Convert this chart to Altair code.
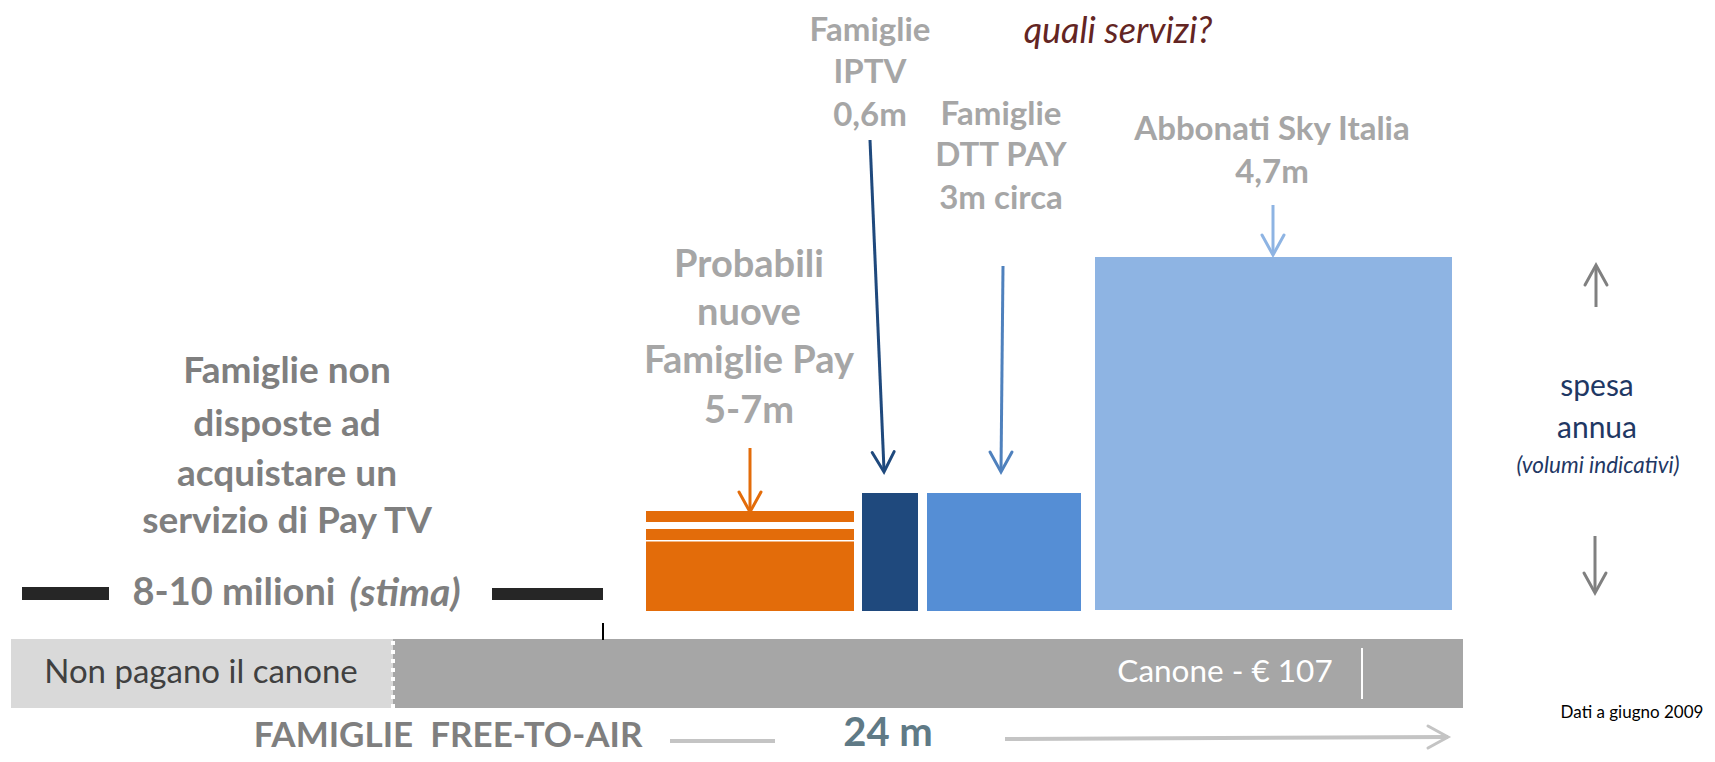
import altair as alt
import pandas as pd

# ---------------- layout frame (page pixels of the 1715x762 slide) ----------------
W, H = 1699, 746
XS = alt.Scale(domain=[8, 8 + W], nice=False, zero=False)
YS = alt.Scale(domain=[8, 8 + H], nice=False, zero=False, reverse=True)
FONT = "Lato"

# ---------------- blocks (households / annual spend volumes) ----------------
block_name = ["Non pagano il canone", "Canone", "Nuove Pay (7m)", "Nuove Pay (6m)", "Nuove Pay (5m)",
              "IPTV", "DTT PAY", "Sky Italia", "barra stima sx", "barra stima dx"]
block_x0 = [11, 393, 646, 646, 646, 862, 927, 1095, 22, 492]
block_x1 = [393, 1463, 854, 854, 854, 918, 1081, 1452, 109, 603]
block_y0 = [639, 639, 511, 529, 541.5, 493, 493, 257, 587, 588]
block_y1 = [708, 708, 522, 540, 611, 611, 611, 610, 600, 600]
block_color = ["#d9d9d9", "#a6a6a6", "#e36c0a", "#e36c0a", "#e36c0a",
               "#1f497d", "#558ed5", "#8eb4e3", "#262626", "#262626"]

# ---------------- connector lines / arrow shafts ----------------
line_x0 = [750, 870, 1003, 1273, 1596, 1595, 670, 1005, 603, 1362]
line_y0 = [448, 140, 266, 205, 307, 536, 741, 739, 623, 648]
line_x1 = [750, 884, 1001, 1273, 1596, 1595, 775, 1448, 603, 1362]
line_y1 = [510, 470, 470, 253, 267, 591, 741, 737, 640, 699]
line_color = ["#e36c0a", "#1f497d", "#4f81bd", "#8eb4e3", "#808080", "#808080",
              "#c4c4c4", "#c4c4c4", "#000000", "#ffffff"]
line_width = [3, 3, 3, 3, 3, 3, 4, 4, 2, 2]

# ---------------- arrow heads (tip position, direction) ----------------
head_x = [750, 884, 1001, 1273, 1596, 1595, 1448]
head_y = [512, 472, 472, 255, 265, 593, 737]
head_angle = [0, 357.6, 0, 0, 180, 0, 270]
head_color = ["#e36c0a", "#1f497d", "#4f81bd", "#8eb4e3", "#808080", "#808080", "#c4c4c4"]

# ---------------- dotted separator ----------------
dot_x = [393]
dot_y0 = [641]
dot_y1 = [708]

# ---------------- labels ----------------
lab_text = ["Famiglie non", "disposte ad", "acquistare un", "servizio di Pay TV",
            "8-10 milioni",
            "Probabili", "nuove", "Famiglie Pay", "5-7m",
            "Famiglie", "IPTV", "0,6m",
            "Famiglie", "DTT PAY", "3m circa",
            "Abbonati Sky Italia", "4,7m"]
lab_x = [287, 287, 287, 287, 234, 749, 749, 749, 749, 870, 870, 870, 1001, 1001, 1001, 1272, 1272]
lab_y = [372, 425, 475, 522, 594, 266, 314, 362, 412, 31, 73, 116, 115, 156, 199, 130, 173]
lab_size = [37, 37, 37, 37, 38, 38, 38, 38, 38, 33, 33, 33, 33, 33, 33, 33, 33]
lab_color = ["#7f7f7f"] * 5 + ["#a6a6a6"] * 12

foot_text = ["FAMIGLIE\u00a0 FREE-TO-AIR", "24 m"]
foot_x = [448, 888]
foot_y = [754, 754]
foot_size = [35, 40]
foot_color = ["#7f7f7f", "#5f7a86"]

ital_bold_text = ["(stima)"]
ital_bold_x = [405]
ital_bold_y = [594]

reg_text = ["Non pagano il canone", "Canone - \u20ac 107", "Dati a giugno 2009", "spesa", "annua"]
reg_x = [201, 1225, 1632, 1597, 1597]
reg_y = [673, 673, 713, 387, 429]
reg_size = [33, 31.5, 17, 30, 30]
reg_color = ["#404040", "#ffffff", "#000000", "#1f3864", "#1f3864"]

ital_text = ["quali servizi?", "(volumi indicativi)"]
ital_x = [1118, 1598]
ital_y = [32, 466]
ital_size = [36, 22.5]
ital_color = ["#632523", "#1f3864"]

# ---------------- tables ----------------
blocks = pd.DataFrame(dict(name=block_name, x0=block_x0, x1=block_x1, y0=block_y0, y1=block_y1, c=block_color))
lines = pd.DataFrame(dict(x0=line_x0, y0=line_y0, x1=line_x1, y1=line_y1, c=line_color, w=line_width))
heads = pd.DataFrame(dict(x=head_x, y=head_y, a=head_angle, c=head_color))
dots = pd.DataFrame(dict(x=dot_x, y0=dot_y0, y1=dot_y1))


def X(f):
    return alt.X(f, scale=XS, axis=None)


def Y(f):
    return alt.Y(f, scale=YS, axis=None)


rect_layer = alt.Chart(blocks).mark_rect().encode(
    x=X("x0:Q"), x2="x1:Q", y=Y("y0:Q"), y2="y1:Q",
    color=alt.Color("c:N", scale=None),
)

line_layer = alt.Chart(lines).mark_rule(strokeCap="butt").encode(
    x=X("x0:Q"), y=Y("y0:Q"), x2="x1:Q", y2="y1:Q",
    color=alt.Color("c:N", scale=None),
    strokeWidth=alt.StrokeWidth("w:Q", scale=None),
)

dot_layer = alt.Chart(dots).mark_rule(color="white", strokeWidth=4, strokeDash=[4, 5]).encode(
    x=X("x:Q"), y=Y("y0:Q"), y2="y1:Q",
)

head_layer = alt.Chart(heads).mark_point(
    shape="M-0.55,-1L0,0L0.55,-1", filled=False, strokeWidth=3, size=1600, opacity=1,
    strokeCap="round", strokeJoin="miter",
).encode(
    x=X("x:Q"), y=Y("y:Q"),
    angle=alt.Angle("a:Q", scale=None),
    color=alt.Color("c:N", scale=None),
)


def text_layer(df, weight, style, baseline="middle"):
    return alt.Chart(df).mark_text(
        font=FONT, fontWeight=weight, fontStyle=style, align="center", baseline=baseline,
    ).encode(
        x=X("x:Q"), y=Y("y:Q"), text="t:N",
        size=alt.Size("s:Q", scale=None),
        color=alt.Color("c:N", scale=None),
    )


bold_df = pd.DataFrame(dict(t=lab_text, x=lab_x, y=lab_y, s=lab_size, c=lab_color))
foot_df = pd.DataFrame(dict(t=foot_text, x=foot_x, y=foot_y, s=foot_size, c=foot_color))
bold_it_df = pd.DataFrame(dict(t=ital_bold_text, x=ital_bold_x, y=ital_bold_y, s=[39], c=["#7f7f7f"]))
reg_df = pd.DataFrame(dict(t=reg_text, x=reg_x, y=reg_y, s=reg_size, c=reg_color))
it_df = pd.DataFrame(dict(t=ital_text, x=ital_x, y=ital_y, s=ital_size, c=ital_color))

chart = alt.layer(
    rect_layer, dot_layer, line_layer, head_layer,
    text_layer(bold_df, "bold", "normal"),
    text_layer(foot_df, "bold", "normal", baseline="bottom"),
    text_layer(bold_it_df, "bold", "italic"),
    text_layer(reg_df, "normal", "normal"),
    text_layer(it_df, "normal", "italic"),
).properties(
    width=W, height=H, padding=0, autosize=alt.AutoSizeParams(type="none"),
    background="white",
).configure_view(stroke=None)

chart.save("out.html", embed_options={"renderer": "svg", "actions": False})
